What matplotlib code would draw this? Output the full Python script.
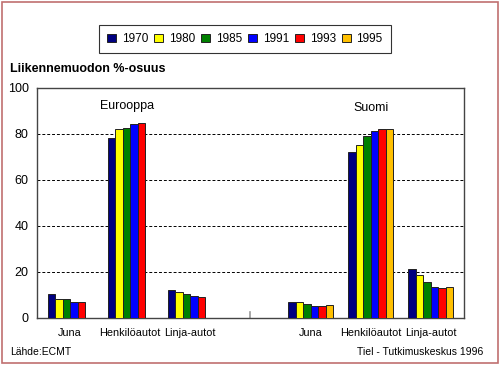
import matplotlib
matplotlib.use("Agg")
import matplotlib.pyplot as plt
from matplotlib.patches import Rectangle
import numpy as np

plt.rcParams['font.family'] = ['Liberation Sans', 'DejaVu Sans']

# data
years = ['1970', '1980', '1985', '1991', '1993', '1995']
colors = ['#000080', '#ffff00', '#008000', '#0000ff', '#ff0000', '#ffc000']
categories = ['Juna', 'Henkilöautot', 'Linja-autot', '', 'Juna', 'Henkilöautot', 'Linja-autot']

# Eurooppa (no 1995)
europe = {
    '1970': [10.4, 78.3, 12.0],
    '1980': [8.4, 82.0, 11.2],
    '1985': [8.2, 82.5, 10.6],
    '1991': [7.0, 84.3, 9.4],
    '1993': [7.0, 84.6, 9.1],
}
# Suomi
finland = {
    '1970': [7.0, 72.2, 21.3],
    '1980': [7.1, 75.0, 18.6],
    '1985': [6.1, 79.0, 15.5],
    '1991': [5.2, 81.4, 13.5],
    '1993': [5.2, 82.3, 12.9],
    '1995': [5.5, 82.0, 13.3],
}

fig = plt.figure(figsize=(5, 3.65), dpi=100)
ax = fig.add_axes([0.074, 0.129, 0.854, 0.630])

w = 0.125
eu_x = np.array([0, 1, 2])
fi_x = np.array([4, 5, 6])
for i, y in enumerate(years):
    off = (i - 2.5) * w
    if y in europe:
        ax.bar(eu_x + off, europe[y], w, color=colors[i], edgecolor='#222222', linewidth=0.7, zorder=3)
    ax.bar(fi_x + off, finland[y], w, color=colors[i], edgecolor='#222222', linewidth=0.7, zorder=3,
           label=y)

ax.set_xlim(-0.55, 6.55)
ax.set_ylim(0, 100)
ax.set_yticks([0, 20, 40, 60, 80, 100])
ax.set_xticks([0, 1, 2, 4, 5, 6])
ax.set_xticklabels([c for c in categories if c])
ax.tick_params(axis='x', length=0, pad=7, labelsize=7.8)
ax.tick_params(axis='y', length=0, pad=6, labelsize=9)
for yv in [20, 40, 60, 80]:
    ax.axhline(yv, color='black', linestyle=(0, (3, 2)), linewidth=0.7, zorder=1)
ax.plot([3, 3], [0, 2.5], color='#999999', linewidth=1.2, zorder=2)
for s in ax.spines.values():
    s.set_color('#444444')
    s.set_linewidth(1.0)

ax.text(0.95, 92, 'Eurooppa', fontsize=9, ha='center', va='center')
ax.text(5.0, 91.5, 'Suomi', fontsize=9, ha='center', va='center')

leg = fig.legend(loc='center', bbox_to_anchor=(0.49, 0.893), ncol=6, fontsize=8.5,
                 frameon=True, fancybox=False, edgecolor='black', handlelength=0.75,
                 handleheight=0.75, handletextpad=0.5, columnspacing=0.5,
                 borderpad=0.7)
leg.get_frame().set_linewidth(0.8)

fig.text(0.02, 0.812, 'Liikennemuodon %-osuus', fontsize=9, fontweight='bold', va='center')
fig.text(0.02, 0.035, 'Lähde:ECMT', fontsize=7.5, va='center')
fig.text(0.966, 0.035, 'Tiel - Tutkimuskeskus 1996', fontsize=7.5, va='center', ha='right')

fig.patches.append(Rectangle((0.003, 0.005), 0.992, 0.99, transform=fig.transFigure,
                             fill=False, edgecolor='#c07070', linewidth=1.2))

fig.savefig('out.png', dpi=100)
